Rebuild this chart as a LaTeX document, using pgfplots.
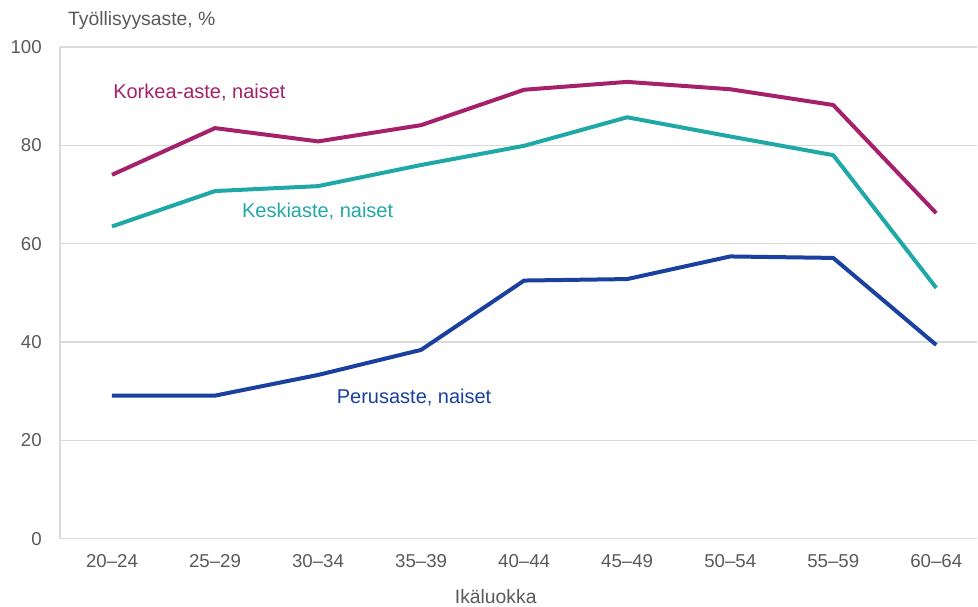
\documentclass[border=0pt]{standalone}
\usepackage{fontspec}
\setmainfont{Liberation Sans}
\usepackage{pgfplots}
\pgfplotsset{compat=1.18}
\definecolor{korkea}{HTML}{A6216C}
\definecolor{keski}{HTML}{1FA8A5}
\definecolor{perus}{HTML}{1A40A0}
\definecolor{txt}{HTML}{5A5A5A}
\definecolor{gridc}{HTML}{DADADA}
\begin{document}
\begin{tikzpicture}
\begin{axis}[
  scale only axis,
  width=688.5pt, height=369pt,
  xmin=-0.505, xmax=8.4,
  ymin=0, ymax=100,
  ytick={0,20,40,60,80,100},
  xtick={0,...,8},
  xticklabels={20--24,25--29,30--34,35--39,40--44,45--49,50--54,55--59,60--64},
  axis x line*=bottom, axis y line*=left,
  axis line style={gridc, line width=0.8pt, -},
  ymajorgrids, grid style={gridc, line width=0.8pt},
  major tick length=0pt,
  tick label style={font=\fontsize{14}{16}\selectfont, text=txt, inner sep=0pt},
  /pgf/number format/assume math mode=true,
  yticklabel style={anchor=east, xshift=-13.5pt},
  xticklabel style={anchor=center, yshift=-16.5pt},
  clip=false,
  line join=round,
]
\addplot[korkea, line width=3pt] coordinates {(0,74.0) (1,83.5) (2,80.8) (3,84.1) (4,91.3) (5,92.9) (6,91.4) (7,88.2) (8,66.2)};
\addplot[keski, line width=3pt] coordinates {(0,63.5) (1,70.7) (2,71.7) (3,76.0) (4,79.9) (5,85.7) (6,81.8) (7,78.0) (8,51.0)};
\addplot[perus, line width=3pt] coordinates {(0,29.1) (1,29.1) (2,33.3) (3,38.4) (4,52.5) (5,52.8) (6,57.4) (7,57.1) (8,39.4)};
\node[anchor=west, text=korkea, font=\fontsize{15}{17}\selectfont, inner sep=0pt] at (axis cs:0.01,90.65) {Korkea-aste, naiset};
\node[anchor=west, text=keski, font=\fontsize{15}{17}\selectfont, inner sep=0pt] at (axis cs:1.26,66.5) {Keskiaste, naiset};
\node[anchor=west, text=perus, font=\fontsize{15}{17}\selectfont, inner sep=0pt] at (axis cs:2.18,28.7) {Perusaste, naiset};
\node[anchor=west, text=txt, font=\fontsize{14.5}{16}\selectfont, inner sep=0pt] at (rel axis cs:0,1) [xshift=6pt, yshift=19.5pt] {Työllisyysaste, \%};
\node[anchor=center, text=txt, font=\fontsize{14.5}{16}\selectfont, inner sep=0pt] at (rel axis cs:0,0) [xshift=327pt, yshift=-43.5pt] {Ikäluokka};
\path (rel axis cs:0,0) ++(-45pt,-51pt) rectangle ++(733.5pt,455.25pt);
\end{axis}
\end{tikzpicture}
\end{document}
